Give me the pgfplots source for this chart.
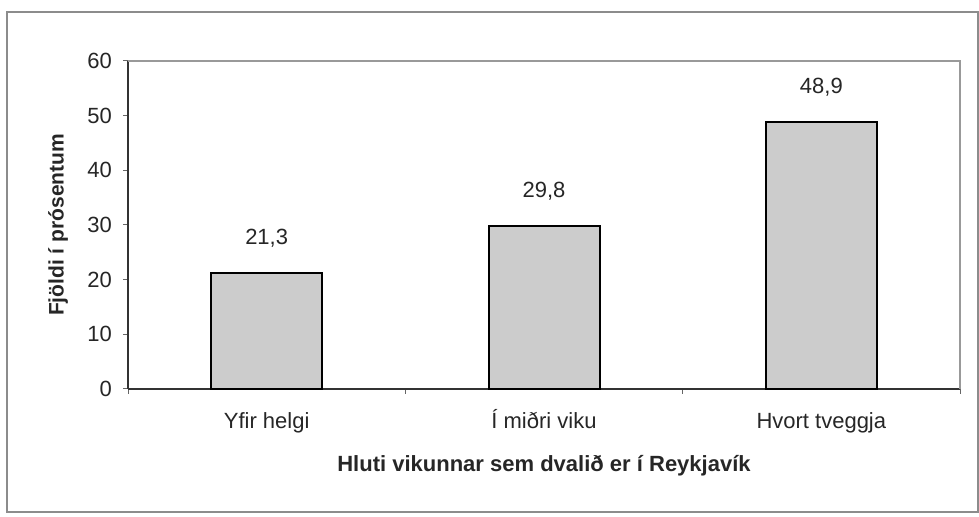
\documentclass[border=0pt]{standalone}
\usepackage{fontspec}
\setmainfont{Liberation Sans}
\usepackage{pgfplots}
\pgfplotsset{compat=1.18}

\begin{document}
\begin{tikzpicture}
% 1 px of the reference = 0.5pt
\path[use as bounding box] (0,0) rectangle (489.5pt,258.5pt);
\draw[black!45, line width=0.8pt] (3.5pt,2.5pt) rectangle (489pt,252.5pt);
\begin{axis}[
  at={(64pt,64pt)}, anchor=south west,
  scale only axis,
  width=416pt, height=164pt,
  xmin=-0.5, xmax=2.5,
  ymin=0, ymax=60,
  ytick={0,10,...,60},
  xtick={-0.5,0.5,1.5,2.5},
  xticklabels={},
  extra x ticks={0,1,2},
  extra x tick labels={Yfir helgi,Í miðri viku,Hvort tveggja},
  extra x tick style={tick style={draw=none},
    xticklabel style={anchor=base, yshift=-17.5pt, font=\fontsize{11}{13}\selectfont}},
  axis x line*=bottom,
  axis y line*=left,
  axis line style={-, black!80, line width=0.7pt},
  tick align=outside,
  major tick length=2.5pt,
  tick style={black!60, line width=0.5pt},
  /pgf/number format/assume math mode=true,
  tick label style={font=\fontsize{11}{13}\selectfont, text=black!85},
  yticklabel style={xshift=-2pt},
  xlabel={Hluti vikunnar sem dvalið er í Reykjavík},
  ylabel={Fjöldi í prósentum},
  xlabel style={at={(axis description cs:0.5,0)}, anchor=center, yshift=-38.5pt,
    font=\fontsize{11}{13}\selectfont\bfseries, text=black!85},
  ylabel style={at={(axis description cs:-0.0841,0.5)}, anchor=center,
    font=\fontsize{10.5}{12}\selectfont\bfseries, text=black!85},
  ybar,
  bar width=55.5pt,
  point meta=explicit symbolic,
  nodes near coords,
  nodes near coords style={anchor=south, yshift=9pt,
    font=\fontsize{11}{13}\selectfont, text=black!85},
  clip=false,
  after end axis/.code={
    \draw[black!40, line width=0.7pt] (rel axis cs:0,1) -- (rel axis cs:1,1) -- (rel axis cs:1,0);
  },
]
\addplot[draw=black, line width=1pt, fill=black!20] coordinates {
  (0,21.3) [21,3]
  (1,29.8) [29,8]
  (2,48.9) [48,9]
};
\end{axis}
\end{tikzpicture}
\end{document}
